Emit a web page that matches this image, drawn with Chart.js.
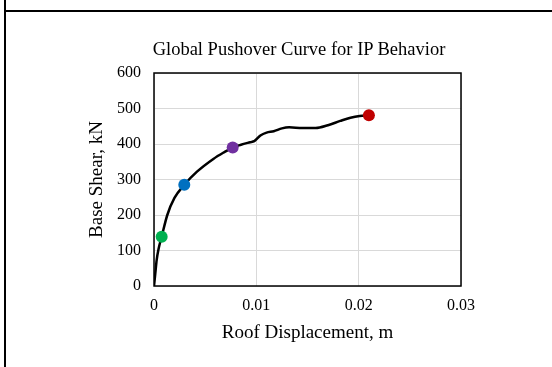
<!DOCTYPE html>
<html>
<head>
<meta charset="utf-8">
<script src="https://cdn.jsdelivr.net/npm/chart.js@4/dist/chart.umd.min.js"></script>
<style>
  body { margin: 0; background: #fff; }
  #wrap { position: relative; width: 552px; height: 367px; overflow: hidden; }
  #frame-v { position: absolute; left: 4px; top: 0; width: 2px; height: 367px; background: #000; }
  #frame-h { position: absolute; left: 4px; top: 10px; width: 548px; height: 2px; background: #000; }
  #title { position: absolute; left: 0; width: 598px; top: 38px; text-align: center;
           font: 18.5px 'Liberation Serif', 'Times New Roman', serif; color: #000; line-height: 22px; white-space: nowrap; }
  canvas { position: absolute; left: 0; top: 0; }
</style>
</head>
<body>
<div id="wrap">
  <canvas id="pushover" width="552" height="367"></canvas>
  <div id="title">Global Pushover Curve for IP Behavior</div>
  <div id="frame-v"></div>
  <div id="frame-h"></div>
</div>
<script>
// pushover curve
const curveDisp = [0, 0.00013, 0.00026, 0.00045, 0.00075, 0.0013, 0.002, 0.00296, 0.0042, 0.0058, 0.0068, 0.00769,
  0.0085, 0.0094, 0.0098, 0.0104, 0.011, 0.0117, 0.0125, 0.0132, 0.0145, 0.0158, 0.017, 0.0182, 0.0192, 0.0201, 0.021];
const curveShear = [0, 36, 73, 105, 139, 200, 248, 285, 322, 358, 376, 390,
  398, 405, 408, 424, 432, 436, 444, 447, 445, 445, 453, 465, 474, 479, 481];

// performance points
const markerDisp = [0.00075, 0.00296, 0.00769, 0.021];
const markerShear = [139, 285, 390, 481];
const markerColors = ['#00b050', '#0070c0', '#7030a0', '#c00000'];

const xTickLabels = ['0', '0.01', '0.02', '0.03'];
const yTickLabels = ['0', '100', '200', '300', '400', '500', '600'];

const serif = 'Liberation Serif, Times New Roman, serif';

const plotBox = {
  id: 'plotBox',
  afterDraw(chart) {
    const { ctx, chartArea: a } = chart;
    ctx.save();
    ctx.strokeStyle = '#000';
    ctx.lineWidth = 1.5;
    ctx.strokeRect(a.left, a.top, a.right - a.left, a.bottom - a.top);
    ctx.restore();
  }
};

const curve = curveDisp.map((x, i) => ({ x, y: curveShear[i] }));
const markerSets = markerDisp.map((x, i) => ({
  data: [{ x, y: markerShear[i] }],
  showLine: false,
  pointRadius: 6,
  pointHoverRadius: 6,
  pointBackgroundColor: markerColors[i],
  pointBorderColor: markerColors[i],
  borderWidth: 0
}));

new Chart(document.getElementById('pushover'), {
  type: 'scatter',
  data: {
    datasets: [
      ...markerSets,
      {
        data: curve,
        showLine: true,
        borderColor: '#000',
        borderWidth: 2.5,
        tension: 0.4,
        cubicInterpolationMode: 'monotone',
        pointRadius: 0
      }
    ]
  },
  options: {
    responsive: false,
    animation: false,
    layout: { padding: { left: 86, right: 91, top: 73, bottom: 23 } },
    plugins: {
      legend: { display: false },
      tooltip: { enabled: false },
      title: { display: false }
    },
    scales: {
      x: {
        type: 'linear',
        min: 0,
        max: 0.03,
        afterFit(s) { s.height = 58; },
        ticks: {
          stepSize: 0.01,
          color: '#000',
          padding: 10,
          font: { family: serif, size: 16 },
          callback: (v, i) => xTickLabels[i]
        },
        grid: { color: '#d9d9d9', lineWidth: 1, drawTicks: false },
        border: { display: false },
        title: {
          display: true,
          text: 'Roof Displacement, m',
          color: '#000',
          font: { family: serif, size: 19 },
          padding: 0
        }
      },
      y: {
        min: 0,
        max: 600,
        afterFit(s) { s.width = 68; },
        ticks: {
          stepSize: 100,
          color: '#000',
          padding: 13,
          font: { family: serif, size: 16 },
          callback: (v, i) => yTickLabels[i]
        },
        grid: { color: '#d9d9d9', lineWidth: 1, drawTicks: false },
        border: { display: false },
        title: {
          display: true,
          text: 'Base Shear, kN',
          color: '#000',
          font: { family: serif, size: 19 },
          padding: 0
        }
      }
    }
  },
  plugins: [plotBox]
});
</script>
</body>
</html>
